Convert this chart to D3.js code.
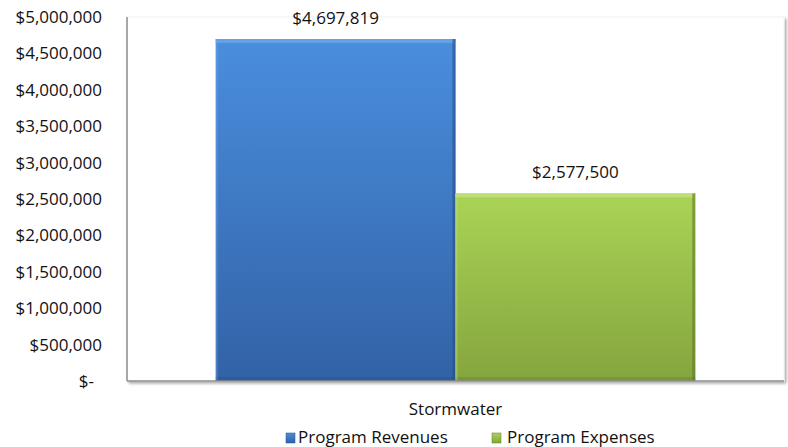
<!DOCTYPE html>
<html>
<head>
<meta charset="utf-8">
<script src="https://cdn.jsdelivr.net/npm/d3@7"></script>
<style>
  body { margin: 0; background: #fff; }
  svg { display: block; font-family: "Open Sans", Lato, sans-serif; }
</style>
</head>
<body>
<svg width="788" height="447"></svg>
<script>
var categories = ["Stormwater"];
var seriesNames = ["Program Revenues", "Program Expenses"];
var seriesValues = [4697819, 2577500];
var yTicks = [0, 500000, 1000000, 1500000, 2000000, 2500000, 3000000, 3500000, 4000000, 4500000, 5000000];
var palette = [
  { top: "#4a8ede", bottom: "#3262a6", light: "#6ea5ea", dark: "#264f88" },
  { top: "#aad456", bottom: "#85a53e", light: "#c3e27c", dark: "#5f7a28" }
];

var svg = d3.select("svg");
// note: "top" is reserved on window, so use plot* names
var plotLeft = 127, plotRight = 784, plotTop = 17, plotBottom = 381;
var fontSize = "17px";

var fmt = d3.format(",");
function money(v) { return v === 0 ? "$-" : "$" + fmt(v); }

var defs = svg.append("defs");
palette.forEach(function (p, i) {
  var g = defs.append("linearGradient").attr("id", "grad" + i)
    .attr("x1", 0).attr("y1", 0).attr("x2", 0).attr("y2", 1);
  g.append("stop").attr("offset", "0%").attr("stop-color", p.top);
  g.append("stop").attr("offset", "100%").attr("stop-color", p.bottom);
});
var sh = defs.append("filter").attr("id", "shadow").attr("x", "-5%").attr("y", "-5%").attr("width", "110%").attr("height", "120%");
sh.append("feGaussianBlur").attr("in", "SourceAlpha").attr("stdDeviation", 1.5);
sh.append("feOffset").attr("dx", 2).attr("dy", 2).attr("result", "b");
sh.append("feComponentTransfer").append("feFuncA").attr("type", "linear").attr("slope", 0.35);
var m = sh.append("feMerge");
m.append("feMergeNode");
m.append("feMergeNode").attr("in", "SourceGraphic");

var y = d3.scaleLinear().domain([0, 5000000]).range([plotBottom, plotTop]);
var x0 = d3.scaleBand().domain(categories).range([plotLeft, plotRight]);
var x1 = d3.scaleBand().domain(seriesNames).range([0, x0.bandwidth()]).paddingOuter(0.37);

// plot area
svg.append("rect")
  .attr("x", plotLeft).attr("y", plotTop)
  .attr("width", plotRight - plotLeft).attr("height", plotBottom - plotTop)
  .attr("fill", "#fff").attr("stroke", "#f2f2f2")
  .attr("filter", "url(#shadow)");

// y axis labels
var yAxis = d3.axisLeft(y).tickValues(yTicks).tickSize(0).tickPadding(25).tickFormat(money);
var ya = svg.append("g").attr("transform", "translate(" + plotLeft + ",0)").call(yAxis);
ya.select(".domain").remove();
ya.selectAll(".tick text").attr("font-size", fontSize).attr("fill", "#111")
  .attr("font-family", "'Open Sans', sans-serif");
ya.selectAll(".tick text").filter(function (d) { return d === 0; }).attr("dx", -8);

// bars
var cat = svg.append("g").selectAll("g").data(categories).join("g")
  .attr("transform", function (d) { return "translate(" + x0(d) + ",0)"; });

seriesNames.forEach(function (s, i) {
  var bx = x1(s), bw = x1.bandwidth(), by = y(seriesValues[i]), bh = y(0) - y(seriesValues[i]);
  var p = palette[i];
  cat.append("rect").attr("x", bx).attr("y", by).attr("width", bw).attr("height", bh)
    .attr("fill", "url(#grad" + i + ")");
  // bevel: light top strip, dark right edge and bottom
  cat.append("rect").attr("x", bx).attr("y", by).attr("width", bw).attr("height", 4)
    .attr("fill", p.light).attr("opacity", 0.8);
  cat.append("rect").attr("x", bx + bw - 3).attr("y", by).attr("width", 3).attr("height", bh)
    .attr("fill", p.dark).attr("opacity", 0.6);
  cat.append("rect").attr("x", bx).attr("y", y(0) - 4).attr("width", bw).attr("height", 4)
    .attr("fill", p.dark).attr("opacity", 0.35);
  cat.append("rect").attr("x", bx).attr("y", by).attr("width", 2).attr("height", bh)
    .attr("fill", p.light).attr("opacity", 0.4);
  cat.append("text")
    .attr("x", bx + bw / 2).attr("y", by - 15)
    .attr("text-anchor", "middle").attr("font-size", fontSize).attr("fill", "#111")
    .text(money(seriesValues[i]));
});

// axis lines
svg.append("line").attr("x1", plotLeft).attr("x2", plotLeft).attr("y1", plotTop).attr("y2", plotBottom)
  .attr("stroke", "#8c8c8c").attr("stroke-width", 1.5);
svg.append("line").attr("x1", plotLeft).attr("x2", plotRight).attr("y1", plotBottom).attr("y2", plotBottom)
  .attr("stroke", "#8c8c8c").attr("stroke-width", 1.5);

// category label
svg.append("text").attr("x", x0(categories[0]) + x0.bandwidth() / 2).attr("y", 415)
  .attr("text-anchor", "middle").attr("font-size", fontSize).attr("fill", "#111")
  .text(categories[0]);

// legend
var legendX = [286, 492];
var legendTextOffset = [12, 15];
seriesNames.forEach(function (s, i) {
  var g = svg.append("g").attr("transform", "translate(" + legendX[i] + ",433)");
  g.append("rect").attr("width", 9).attr("height", 10).attr("fill", "url(#grad" + i + ")")
    .attr("stroke", palette[i].dark).attr("stroke-width", 0.5);
  g.append("text").attr("x", legendTextOffset[i]).attr("y", 10).attr("font-size", fontSize).attr("fill", "#111").text(s);
});
</script>
</body>
</html>
